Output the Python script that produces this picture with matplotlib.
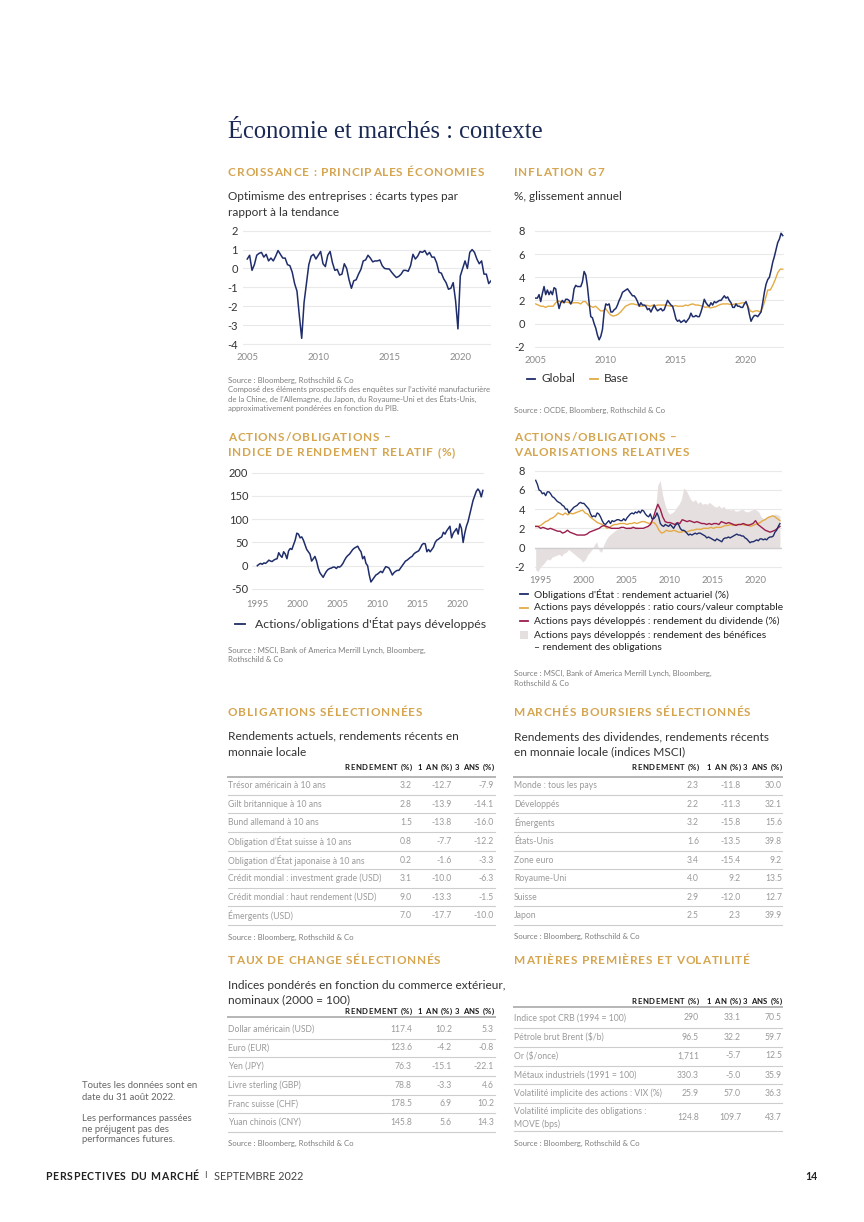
import numpy as np
import matplotlib.pyplot as plt
from matplotlib.patches import Rectangle
from matplotlib import font_manager as fm
from matplotlib.ft2font import FT2Font

try:
    from matplotlib.ft2font import LoadFlags, Kerning
    NO_HINT = LoadFlags.NO_HINTING
    KERN = Kerning.DEFAULT
except ImportError:
    NO_HINT = 2
    KERN = 0

plt.rcParams['axes.unicode_minus'] = False
plt.rcParams['font.family'] = ['Lato', 'DejaVu Sans']

# ---- data read from the page ----
# Croissance : optimisme des entreprises (écarts types), every 2 months from 2005
growth = [0.5, 0.7, -0.1, 0.2, 0.7, 0.8, 0.85, 0.6, 0.75, 0.4, 0.55, 0.4, 0.65, 0.95, 0.75,
          0.55, 0.55, 0.2, 0.15, -0.2, -0.8, -1.2, -2.5, -3.7, -1.8, -0.8, 0.2, 0.65, 0.75,
          0.5, 0.7, 0.9, 0.25, 0.1, 0.7, 0.9, 0.3, -0.1, -0.05, -0.35, -0.3, 0.25, 0.0, -0.6,
          -1.05, -0.65, -0.6, -0.3, -0.05, 0.4, 0.45, 0.7, 0.55, 0.35, 0.4, 0.4, 0.45, 0.15,
          0.0, -0.02, -0.03, -0.2, -0.35, -0.48, -0.42, -0.3, -0.1, -0.1, -0.15, 0.15, 0.75,
          0.5, 0.65, 0.9, 0.85, 0.95, 0.72, 0.85, 0.6, 0.6, 0.3, -0.2, -0.25, -0.55, -0.75,
          -1.1, -1.05, -0.75, -1.7, -3.2, -0.4, 0.0, 0.4, 0.0, 0.85, 1.0, 0.85, 0.5, 0.25,
          0.4, -0.3, -0.3, -0.8, -0.65]
growth_span = (2005.0, 2022.17)

# Inflation G7, % glissement annuel
infl_global = [2.2, 2.2, 2.5, 1.9, 2.6, 3.2, 2.5, 2.9, 2.5, 2.8, 2.5, 3.1, 3.0, 2.0, 1.3, 1.8,
               2.0, 1.8, 2.1, 2.1, 2.0, 1.7, 2.0, 3.0, 3.3, 3.2, 3.2, 3.2, 3.6, 4.5, 4.2, 3.2,
               1.8, 0.6, 0.5, 0.0, -0.4, -1.0, -1.4, -1.1, -0.5, 1.0, 1.7, 1.6, 1.7, 1.0, 1.0,
               1.2, 1.3, 1.6, 2.0, 2.3, 2.7, 2.8, 2.9, 3.0, 2.8, 2.6, 2.4, 2.4, 2.2, 1.9, 1.5,
               1.8, 1.6, 1.6, 1.5, 1.2, 1.3, 1.0, 1.3, 1.6, 1.3, 1.1, 1.2, 1.3, 1.1, 1.2, 1.6,
               2.0, 1.8, 1.6, 1.5, 1.0, 0.4, 0.2, 0.3, 0.1, 0.2, 0.3, 0.1, 0.3, 0.5, 0.9, 0.6,
               0.6, 0.7, 0.6, 0.6, 1.0, 1.5, 2.1, 1.8, 1.6, 1.5, 1.8, 1.6, 1.9, 1.8, 1.9, 2.0,
               2.0, 2.2, 2.4, 2.2, 2.3, 2.0, 1.8, 1.4, 1.4, 1.7, 1.5, 1.5, 1.4, 1.4, 1.7, 1.9,
               1.5, 0.8, 0.2, 0.5, 0.7, 0.7, 0.6, 0.8, 1.0, 1.8, 2.7, 3.4, 3.8, 4.0, 4.6, 5.3,
               5.8, 6.4, 7.0, 7.3, 7.8, 7.6]
infl_base = [1.7, 1.6, 1.5, 1.5, 1.4, 1.5, 1.5, 1.5, 1.8, 1.95, 1.9, 1.8, 1.85, 1.85, 1.7, 1.8,
             1.8, 1.8, 1.7, 1.9, 1.9, 1.6, 1.5, 1.4, 1.5, 1.3, 1.1, 1.1, 1.3, 1.0, 0.75, 0.65,
             0.7, 0.8, 1.0, 1.25, 1.5, 1.6, 1.7, 1.7, 1.65, 1.6, 1.5, 1.5, 1.6, 1.55, 1.5, 1.6,
             1.55, 1.6, 1.6, 1.6, 1.6, 1.55, 1.5, 1.5, 1.55, 1.5, 1.5, 1.5, 1.6, 1.55, 1.65,
             1.7, 1.6, 1.6, 1.55, 1.5, 1.4, 1.45, 1.35, 1.4, 1.45, 1.55, 1.65, 1.7, 1.7, 1.7,
             1.65, 1.65, 1.7, 1.7, 1.75, 1.8, 1.8, 1.5, 1.1, 1.0, 1.1, 1.1, 1.0, 1.4, 2.1, 2.9,
             2.9, 3.3, 3.8, 4.4, 4.7, 4.7]
infl_span = (2005.0, 2022.67)

# Actions/obligations : indice de rendement relatif (%)
rel_return = [0, 3, 5, 3, 6, 5, 8, 12, 10, 9, 12, 14, 15, 28, 22, 18, 30, 25, 15, 32, 37, 35,
              45, 55, 70, 68, 60, 62, 55, 45, 35, 30, 25, 10, 15, 20, 10, -5, -15, -20, -25,
              -18, -12, -8, -6, -5, -3, -3, -6, -2, -3, 0, 5, 12, 18, 22, 25, 30, 35, 38, 40,
              42, 35, 30, 15, 20, 5, 0, -20, -35, -30, -25, -20, -18, -15, -12, -15, -8, -2,
              -3, -5, -12, -20, -15, -12, -10, -10, -5, 0, 5, 10, 12, 15, 18, 20, 25, 28, 30,
              32, 38, 45, 48, 47, 30, 35, 30, 35, 40, 50, 55, 57, 60, 62, 72, 68, 75, 80, 85,
              60, 70, 75, 80, 68, 90, 80, 50, 70, 85, 95, 110, 125, 140, 150, 160, 165, 160,
              148, 162]
rel_span = (1995.0, 2023.2)

# Actions/obligations : valorisations relatives
bond_yield_series = [7.0, 6.6, 6.0, 5.9, 5.6, 5.7, 5.4, 5.8, 5.8, 5.6, 5.3, 5.2, 5.0, 4.8, 4.7,
                     4.6, 4.4, 4.3, 4.0, 4.0, 3.6, 3.8, 4.0, 4.2, 4.3, 4.4, 4.6, 4.7, 4.6, 4.6,
                     4.4, 4.2, 4.0, 3.5, 3.2, 3.3, 3.2, 3.6, 3.5, 3.2, 2.8, 2.5, 2.4, 2.6, 2.8,
                     2.5, 2.8, 2.7, 2.8, 2.9, 2.9, 2.8, 2.8, 3.0, 2.8, 3.1, 3.3, 3.5, 3.6, 3.5,
                     3.7, 3.6, 3.8, 3.6, 3.9, 3.8, 3.5, 3.3, 3.2, 3.5, 3.0, 3.0, 3.2, 3.6, 3.2,
                     2.5, 2.3, 2.2, 2.4, 2.3, 2.2, 2.4, 2.2, 2.0, 2.3, 2.5, 2.4, 2.0, 1.8, 1.8,
                     1.7, 1.5, 1.3, 1.4, 1.3, 1.4, 1.5, 1.4, 1.5, 1.5, 1.4, 1.3, 1.2, 1.0, 1.1,
                     1.0, 0.9, 0.8, 0.7, 0.9, 0.8, 0.7, 0.6, 0.9, 1.0, 1.0, 1.1, 1.0, 1.1, 1.2,
                     1.3, 1.4, 1.3, 1.3, 1.2, 1.2, 1.0, 0.9, 0.7, 0.5, 0.6, 0.6, 0.7, 0.8, 0.7,
                     0.9, 0.9, 0.8, 0.9, 0.8, 1.0, 1.1, 1.1, 1.2, 1.6, 1.8, 2.2, 2.5]
price_to_book = [2.2, 2.2, 2.3, 2.5, 2.7, 2.8, 3.0, 3.1, 3.3, 3.6, 3.5, 3.4, 3.6, 3.4, 3.6, 3.5,
                 3.6, 3.7, 3.8, 3.9, 3.6, 3.5, 3.2, 3.0, 2.8, 2.6, 2.5, 2.4, 2.2, 2.0, 2.1, 2.3,
                 2.4, 2.4, 2.5, 2.5, 2.5, 2.4, 2.5, 2.5, 2.6, 2.5, 2.6, 2.7, 2.7, 2.6, 2.5, 2.6,
                 2.6, 2.3, 1.8, 1.5, 1.6, 1.8, 1.7, 1.7, 1.8, 1.7, 1.6, 1.6, 1.7, 1.6, 1.7, 1.8,
                 1.8, 1.9, 1.9, 1.9, 2.0, 2.0, 2.0, 2.1, 2.0, 2.1, 2.1, 2.1, 2.2, 2.3, 2.3, 2.4,
                 2.3, 2.4, 2.4, 2.4, 2.4, 2.3, 2.4, 2.2, 2.3, 2.4, 2.5, 2.6, 2.8, 2.9, 3.1, 3.2,
                 3.3, 3.2, 3.0, 2.8]
div_yield = [2.2, 2.2, 2.0, 2.1, 2.0, 1.9, 2.0, 1.9, 1.8, 1.7, 1.7, 1.5, 1.6, 1.8, 1.6, 1.5,
             1.4, 1.3, 1.3, 1.3, 1.3, 1.4, 1.6, 1.7, 1.8, 1.9, 2.0, 2.2, 2.3, 2.2, 2.1, 2.0,
             2.0, 2.0, 2.0, 2.1, 2.1, 2.0, 2.0, 2.0, 2.1, 2.0, 2.0, 2.0, 2.0, 2.1, 2.2, 2.4,
             3.0, 3.8, 4.5, 4.0, 3.2, 2.7, 2.6, 2.6, 2.5, 2.4, 2.6, 2.5, 2.9, 2.8, 2.7, 2.8,
             2.7, 2.6, 2.7, 2.6, 2.5, 2.5, 2.4, 2.5, 2.4, 2.5, 2.5, 2.4, 2.7, 2.6, 2.5, 2.6,
             2.5, 2.4, 2.3, 2.4, 2.4, 2.5, 2.4, 2.3, 2.4, 2.5, 2.8, 2.4, 2.2, 2.0, 1.8, 1.7,
             1.6, 1.7, 1.8, 2.0, 2.2]
yield_gap = [-2.3, -2.5, -2.0, -1.8, -1.5, -1.2, -1.3, -1.0, -0.9, -0.8, -0.7, -0.9, -0.6, -0.5,
             -0.2, -0.4, -0.6, -0.8, -1.0, -1.2, -1.5, -1.3, -0.8, -0.5, -0.2, 0.3, 0.6, -0.3,
             -0.5, 0.3, 0.8, 1.2, 1.4, 1.6, 1.8, 1.9, 2.0, 1.9, 2.0, 2.1, 2.2, 2.3, 2.2, 2.2,
             2.0, 1.9, 2.0, 2.1, 2.5, 2.8, 3.0, 4.0, 6.5, 7.0, 5.5, 4.5, 3.8, 3.5, 3.6, 3.8,
             4.2, 4.5, 5.0, 6.2, 6.0, 5.5, 5.0, 4.8, 5.0, 4.6, 4.8, 4.5, 4.6, 4.5, 4.7, 4.5,
             4.3, 4.2, 4.4, 4.1, 4.3, 4.0, 4.0, 3.9, 4.0, 3.8, 3.8, 3.9, 4.0, 3.8, 3.7, 3.8,
             3.9, 4.0, 3.9, 3.7, 3.2, 3.0, 3.1, 3.3, 3.2, 3.4, 3.5, 3.4, 3.3]
val_span = (1994.5, 2022.8)

# Tables
bond_names = ["Trésor américain à 10 ans", "Gilt britannique à 10 ans", "Bund allemand à 10 ans",
              "Obligation d’État suisse à 10 ans", "Obligation d’État japonaise à 10 ans",
              "Crédit mondial : investment grade (USD)", "Crédit mondial : haut rendement (USD)",
              "Émergents (USD)"]
bond_yield = ["3.2", "2.8", "1.5", "0.8", "0.2", "3.1", "9.0", "7.0"]
bond_1y = ["-12.7", "-13.9", "-13.8", "-7.7", "-1.6", "-10.0", "-13.3", "-17.7"]
bond_3y = ["-7.9", "-14.1", "-16.0", "-12.2", "-3.3", "-6.3", "-1.5", "-10.0"]

eq_names = ["Monde : tous les pays", "Développés", "Émergents", "États-Unis", "Zone euro",
            "Royaume-Uni", "Suisse", "Japon"]
eq_yield = ["2.3", "2.2", "3.2", "1.6", "3.4", "4.0", "2.9", "2.5"]
eq_1y = ["-11.8", "-11.3", "-15.8", "-13.5", "-15.4", "9.2", "-12.0", "2.3"]
eq_3y = ["30.0", "32.1", "15.6", "39.8", "9.2", "13.5", "12.7", "39.9"]

fx_names = ["Dollar américain (USD)", "Euro (EUR)", "Yen (JPY)", "Livre sterling (GBP)",
            "Franc suisse (CHF)", "Yuan chinois (CNY)"]
fx_level = ["117.4", "123.6", "76.3", "78.8", "178.5", "145.8"]
fx_1y = ["10.2", "-4.2", "-15.1", "-3.3", "6.9", "5.6"]
fx_3y = ["5.3", "-0.8", "-22.1", "4.6", "10.2", "14.3"]

cmd_names = ["Indice spot CRB (1994 = 100)", "Pétrole brut Brent (\\$/b)", "Or (\\$/once)",
             "Métaux industriels (1991 = 100)", "Volatilité implicite des actions : VIX (%)",
             "Volatilité implicite des obligations :\nMOVE (bps)"]
cmd_level = ["290", "96.5", "1,711", "330.3", "25.9", "124.8"]
cmd_1y = ["33.1", "32.2", "-5.7", "-5.0", "57.0", "109.7"]
cmd_3y = ["70.5", "59.7", "12.5", "35.9", "36.3", "43.7"]

col_heads = ["RENDEMENT (%)", "1 AN (%)", "3 ANS (%)"]

# ---- style ----
NAVY = '#1f2d6b'
TITLE = '#1b2a55'
GOLD = '#d5a54f'
ORANGE = '#e4aa45'
CRIMSON = '#9a1d4d'
FILL = '#e6dfdf'
GRID = '#e9e9e9'
TEXT = '#333333'
LIGHT = '#9a9a9a'
SRC = '#7d7d7d'
SUB = 8.5

W, H = 864, 1222
fig = plt.figure(figsize=(W / 100, H / 100), dpi=100)
page = fig.add_axes([0, 0, 1, 1])
page.set_xlim(0, W)
page.set_ylim(H, 0)
page.axis('off')

BOLD_FONT = FT2Font(fm.findfont(fm.FontProperties(family='Lato', weight='bold')))


def txt(x, y, s, size=8, color=TEXT, weight='normal', ha='left', **kw):
    page.text(x, y, s, fontsize=size, color=color, fontweight=weight, ha=ha, va='center', **kw)


def advances(s, size):
    # glyph advances plus pair kerning, in pixels
    BOLD_FONT.set_size(size, 100)
    out = []
    for i, ch in enumerate(s):
        a = BOLD_FONT.load_char(ord(ch), flags=NO_HINT).linearHoriAdvance / 65536
        if i + 1 < len(s):
            try:
                a += BOLD_FONT.get_kerning(BOLD_FONT.get_char_index(ord(ch)),
                                           BOLD_FONT.get_char_index(ord(s[i + 1])), KERN) / 64
            except Exception:
                pass
        out.append(a)
    return out


def tracked(x, y, s, size, color, track=0.8, ha='left'):
    # letter-spaced bold caps, drawn glyph by glyph on a common baseline
    adv = [a + track for a in advances(s, size)]
    if ha == 'right':
        x -= sum(adv) - track
    yb = y + 0.36 * size * 100 / 72
    for ch, a in zip(s, adv):
        if ch != ' ':
            page.text(x, yb, ch, fontsize=size, color=color, fontweight='bold', va='baseline')
        x += a


def heading(x, y, s):
    tracked(x, y, s, 8.5, GOLD, track=0.85)


def source(x, y, s):
    txt(x, y, s, size=5.6, color=SRC)


def chart(x0, x1, y0, y1, xlim, ylim, yticks, xticks, ypad, xpad):
    ax = fig.add_axes([x0 / W, 1 - y1 / H, (x1 - x0) / W, (y1 - y0) / H])
    ax.set_xlim(xlim)
    ax.set_ylim(ylim)
    ax.set_yticks(yticks)
    ax.set_yticklabels([f'{t:g}' for t in yticks])
    ax.set_xticks(xticks)
    ax.set_xticklabels([str(t) for t in xticks])
    for s in ax.spines.values():
        s.set_visible(False)
    ax.tick_params(length=0)
    ax.tick_params(axis='y', labelsize=8, labelcolor=TEXT, pad=ypad)
    ax.tick_params(axis='x', labelsize=6.8, labelcolor='#8a8a8a', pad=xpad)
    ax.grid(axis='y', color=GRID, lw=0.8)
    ax.set_axisbelow(True)
    ax.patch.set_alpha(0)
    return ax


def dates(span, vals):
    return np.linspace(span[0], span[1], len(vals))


# ---- title ----
txt(228, 132, "Économie et marchés : contexte", size=17.7, color=TITLE, family='Liberation Serif')

# ---- chart 1 : croissance ----
heading(228, 172, "CROISSANCE : PRINCIPALES ÉCONOMIES")
txt(228, 197, "Optimisme des entreprises : écarts types par", size=SUB)
txt(228, 212.5, "rapport à la tendance", size=SUB)
ax1 = chart(243, 491.5, 228.8, 345.9, (2004.7, 2022.2), (-4.1, 2.1),
            [2, 1, 0, -1, -2, -3, -4], [2005, 2010, 2015, 2020], 3.6, 5.4)
ax1.plot(dates(growth_span, growth), growth, color=NAVY, lw=1.1)
for i, s in enumerate(["Source : Bloomberg, Rothschild & Co",
                       "Composé des éléments prospectifs des enquêtes sur l’activité manufacturière",
                       "de la Chine, de l’Allemagne, du Japon, du Royaume-Uni et des États-Unis,",
                       "approximativement pondérées en fonction du PIB."]):
    source(228, 380.5 + 9.3 * i, s)

# ---- chart 2 : inflation ----
heading(514, 172, "INFLATION G7")
txt(514, 197, "%, glissement annuel", size=SUB)
ax2 = chart(535, 784, 229.8, 347.9, (2004.95, 2022.76), (-2.1, 8.1),
            [8, 6, 4, 2, 0, -2], [2005, 2010, 2015, 2020], 7, 6.1)
ax2.plot(dates(infl_span, infl_base), infl_base, color=ORANGE, lw=1.0)
ax2.plot(dates(infl_span, infl_global), infl_global, color=NAVY, lw=1.1)
page.plot([527, 535], [379, 379], color=NAVY, lw=1.3)
txt(542, 379, "Global", size=8.6)
page.plot([590, 598], [379, 379], color=ORANGE, lw=1.3)
txt(604, 379, "Base", size=8.6)
source(514, 410, "Source : OCDE, Bloomberg, Rothschild & Co")

# ---- chart 3 : rendement relatif ----
heading(228, 436.5, "ACTIONS/OBLIGATIONS –")
heading(228, 452, "INDICE DE RENDEMENT RELATIF (%)")
ax3 = chart(251.7, 484, 470.4, 591.3, (1994.3, 2023.34), (-55, 205),
            [200, 150, 100, 50, 0, -50], [1995, 2000, 2005, 2010, 2015, 2020], 2.5, 6.6)
ax3.plot(dates(rel_span, rel_return), rel_return, color=NAVY, lw=1.1)
page.plot([235, 245], [624, 624], color=NAVY, lw=1.3)
txt(255, 624, "Actions/obligations d'État pays développés", size=8.8)
source(228, 650.5, "Source : MSCI, Bank of America Merrill Lynch, Bloomberg,")
source(228, 660, "Rothschild & Co")

# ---- chart 4 : valorisations relatives ----
heading(514, 436.5, "ACTIONS/OBLIGATIONS –")
heading(514, 452, "VALORISATIONS RELATIVES")
ax4 = chart(535, 782, 468.8, 572.5, (1994.42, 2023.04), (-2.6, 8.2),
            [8, 6, 4, 2, 0, -2], [1995, 2000, 2005, 2010, 2015, 2020], 7, 2.2)
ax4.fill_between(dates(val_span, yield_gap), 0, yield_gap, color=FILL, lw=0)
ax4.axhline(0, color='#cfcfcf', lw=1)
ax4.plot(dates(val_span, price_to_book), price_to_book, color=ORANGE, lw=1.0)
ax4.plot(dates(val_span, div_yield), div_yield, color=CRIMSON, lw=1.0)
ax4.plot(dates(val_span, bond_yield_series), bond_yield_series, color=NAVY, lw=1.0)
leg4 = [(594, NAVY, "Obligations d'État : rendement actuariel (%)"),
        (607.5, ORANGE, "Actions pays développés : ratio cours/valeur comptable"),
        (621, CRIMSON, "Actions pays développés : rendement du dividende (%)")]
for y, c, s in leg4:
    page.plot([520, 528], [y, y], color=c, lw=1.3)
    txt(534, y, s, size=7.4, color='#222222')
page.add_patch(Rectangle((520, 631), 8, 8, color=FILL, lw=0))
txt(534, 635, "Actions pays développés : rendement des bénéfices", size=7.4, color='#222222')
txt(534, 648, "– rendement des obligations", size=7.4, color='#222222')
source(514, 673, "Source : MSCI, Bank of America Merrill Lynch, Bloomberg,")
source(514, 683, "Rothschild & Co")


# ---- tables ----
def table(x_left, x_right, col_x, y_head, row_ys, sep_ys, names, cols):
    for cx, h in zip(col_x, col_heads):
        tracked(cx, y_head, h, 5.6, '#1a1a1a', track=0.55, ha='right')
    page.plot([x_left, x_right], [sep_ys[0], sep_ys[0]], color='#b5b5b5', lw=1.4)
    for y in sep_ys[1:]:
        page.plot([x_left, x_right], [y, y], color='#cdcdcd', lw=0.8)
    for i, y in enumerate(row_ys):
        txt(x_left, y, names[i], size=6.2, color=LIGHT, linespacing=1.5)
        for cx, col in zip(col_x, cols):
            txt(cx, y, col[i], size=6.2, color=LIGHT, ha='right')


rows8 = [785.7 + 18.6 * i for i in range(8)]
seps8 = [776.7] + [794.8 + 18.6 * i for i in range(8)]

heading(228, 712, "OBLIGATIONS SÉLECTIONNÉES")
txt(228, 736, "Rendements actuels, rendements récents en", size=8.6)
txt(228, 752, "monnaie locale", size=8.6)
table(228, 495, [412, 452, 494], 767, rows8, seps8, bond_names,
      [bond_yield, bond_1y, bond_3y])
source(228, 937, "Source : Bloomberg, Rothschild & Co")

heading(514, 712, "MARCHÉS BOURSIERS SÉLECTIONNÉS")
txt(514, 736.5, "Rendements des dividendes, rendements récents", size=8.6)
txt(514, 752, "en monnaie locale (indices MSCI)", size=8.6)
table(514, 782, [699, 741, 782], 767, rows8, seps8, eq_names, [eq_yield, eq_1y, eq_3y])
source(514, 936, "Source : Bloomberg, Rothschild & Co")

rows6 = [1029 + 18.7 * i for i in range(6)]
seps6 = [1016.7] + [1038.6 + 18.7 * i for i in range(6)]
heading(228, 960, "TAUX DE CHANGE SÉLECTIONNÉS")
txt(228, 985.5, "Indices pondérés en fonction du commerce extérieur,", size=8.6)
txt(228, 999.5, "nominaux (2000 = 100)", size=8.6)
table(228, 495, [412, 452, 494], 1011, rows6, seps6, fx_names, [fx_level, fx_1y, fx_3y])
source(228, 1143, "Source : Bloomberg, Rothschild & Co")

rows_c = [1018, 1037, 1056, 1075, 1093.5, 1118]
seps_c = [1007, 1028, 1047, 1065.5, 1084, 1102.5, 1131]
heading(514, 960, "MATIÈRES PREMIÈRES ET VOLATILITÉ")
table(514, 782, [699, 741, 782], 1000.7, rows_c, seps_c, cmd_names,
      [cmd_level, cmd_1y, cmd_3y])
source(514, 1143, "Source : Bloomberg, Rothschild & Co")

# ---- side note & footer ----
for y, s in [(1085.5, "Toutes les données sont en"), (1097, "date du 31 août 2022."),
             (1118.5, "Les performances passées"), (1129, "ne préjugent pas des"),
             (1139.5, "performances futures.")]:
    txt(82, y, s, size=6.9, color='#666666')

tracked(45, 1176, "PERSPECTIVES DU MARCHÉ", 7.6, '#222222', track=0.7)
txt(204, 1176, "I", size=7, color='#555555')
txt(214, 1176, "SEPTEMBRE 2022", size=7.8, color='#444444')
txt(818, 1176, "14", size=7.6, color='#222222', weight='bold', ha='right')

fig.savefig('out.png', dpi=100)
